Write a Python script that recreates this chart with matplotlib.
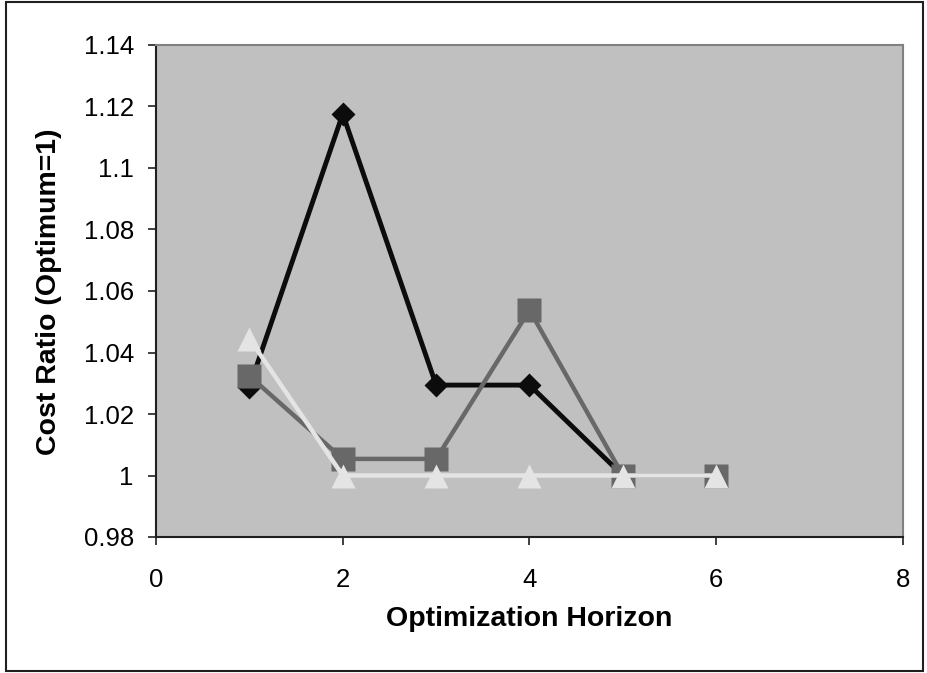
import matplotlib
matplotlib.use("Agg")
import matplotlib.pyplot as plt
from matplotlib.ticker import FuncFormatter
from matplotlib.patches import Rectangle

plt.rcParams['font.family'] = ['Liberation Sans', 'DejaVu Sans']

# Cost ratio per optimization horizon for three series
horizon_a = [1, 2, 3, 4, 5]
ratio_a = [1.0288, 1.1176, 1.0294, 1.0294, 1.0]

horizon_b = [1, 2, 3, 4, 5, 6]
ratio_b = [1.0324, 1.0054, 1.0054, 1.0538, 1.0, 1.0]

horizon_c = [1, 2, 3, 4, 5, 6]
ratio_c = [1.0445, 1.0, 1.0, 1.0, 1.0, 1.0]

x_ticks = [0, 2, 4, 6, 8]
y_ticks = [0.98, 1.0, 1.02, 1.04, 1.06, 1.08, 1.1, 1.12, 1.14]

W, H = 928, 673
fig = plt.figure(figsize=(W / 100, H / 100), dpi=100)
ax = fig.add_axes([156 / W, 1 - 537 / H, (903 - 156) / W, (537 - 45) / H])
ax.set_facecolor('#C0C0C0')

ax.plot(horizon_a, ratio_a, color='#0C0C0C', lw=3.5, marker='D', ms=12,
        mec='none', zorder=3, clip_on=False)
ax.plot(horizon_b, ratio_b, color='#686868', lw=3.2, marker='s', ms=17,
        mec='none', zorder=4, clip_on=False)
ax.plot(horizon_c, ratio_c, color='#E4E4E4', lw=3.2, marker='^', ms=17,
        mec='none', zorder=5, clip_on=False)

ax.set_xlim(0, 8)
ax.set_ylim(0.98, 1.14)
ax.set_xticks(x_ticks)
ax.set_yticks(y_ticks)
ax.yaxis.set_major_formatter(FuncFormatter(lambda v, p: f"{v:g}"))

ax.tick_params(axis='both', direction='out', length=6, width=1.2,
               labelsize=18.5, color='#202020', labelcolor='black')
ax.tick_params(axis='x', pad=16)
ax.tick_params(axis='y', pad=10)

for side in ('top', 'right'):
    ax.spines[side].set_color('#808080')
    ax.spines[side].set_linewidth(1.5)
for side in ('left', 'bottom'):
    ax.spines[side].set_color('#202020')
    ax.spines[side].set_linewidth(1.5)

fig.text(529 / W, 1 - 619 / H, 'Optimization Horizon', fontsize=20.5,
         fontweight='bold', ha='center', va='center')
fig.text(49 / W, 1 - 292 / H, 'Cost Ratio (Optimum=1)', fontsize=20.5,
         fontweight='bold', ha='center', va='center', rotation=90)

# Outer frame around the whole chart
fig.patches.append(Rectangle((6 / W, 2 / H), (923 - 6) / W, (671 - 2) / H,
                             transform=fig.transFigure, fill=False,
                             edgecolor='#202020', lw=1.5))

fig.savefig('out.png', dpi=100)
